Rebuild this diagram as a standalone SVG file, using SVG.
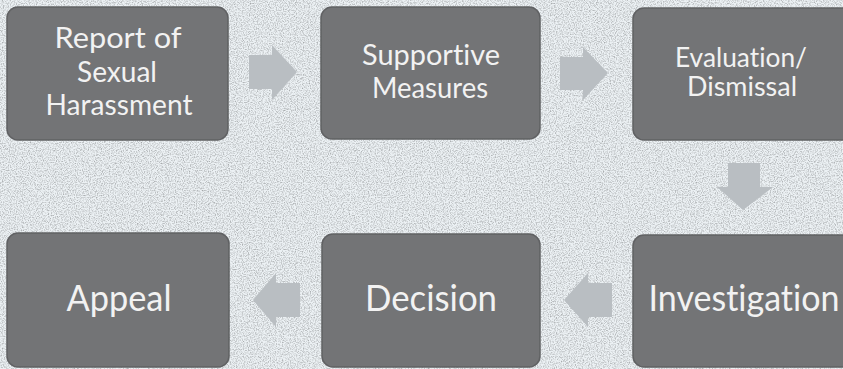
<svg xmlns="http://www.w3.org/2000/svg" width="843" height="369" viewBox="0 0 843 369">
<defs>
<filter id="grain" x="0" y="0" width="100%" height="100%">
<feTurbulence type="fractalNoise" baseFrequency="0.85" numOctaves="2" seed="3" result="n"/>
<feColorMatrix in="n" type="matrix" values="0 0 0 0 0  0 0 0 0 0  0 0 0 0 0  0 0 0 -1.6 0.95" result="a"/>
<feComposite in="a" in2="SourceGraphic" operator="in"/>
</filter>
</defs>
<style>
.box{fill:#737476;stroke:#606163;stroke-width:1.5}
.lbl{font-family:Lato,"Open Sans","Liberation Sans",sans-serif;fill:#f2f2f2;text-anchor:middle;font-variant-ligatures:none}
.xs{font-size:27px}
.s{font-size:29px}
.l{font-size:36px}
.arr{fill:#b9bec2}
</style>
<rect width="843" height="369" fill="#ecf1f4"/>
<rect width="843" height="369" fill="#a4b1b9" filter="url(#grain)" opacity="0.38"/>
<g id="connectors">
<polygon class="arr" points="249,55 272,55 272,45 297,72 272,100 272,89 249,89"/>
<polygon class="arr" points="560,57 583,57 583,47 608,73 583,100 583,90 560,90"/>
<polygon class="arr" points="728,163 760,163 760,187 773,187 743,210 717,187 728,187"/>
<polygon class="arr" points="612,283 588,283 588,273 564,300 588,327 588,317 612,317"/>
<polygon class="arr" points="300,283 276,283 276,273 253,300 276,327 276,317 300,317"/>
</g>
<g id="n1">
<rect class="box" x="7" y="7" width="221" height="133" rx="11"/>
<text class="lbl s" x="118" y="48" textLength="127" lengthAdjust="spacingAndGlyphs">Report of</text>
<text class="lbl s" x="117" y="82" textLength="80" lengthAdjust="spacingAndGlyphs">Sexual</text>
<text class="lbl s" x="119" y="115" textLength="147" lengthAdjust="spacingAndGlyphs">Harassment</text>
</g>
<g id="n2">
<rect class="box" x="321" y="7" width="219" height="132" rx="11"/>
<text class="lbl s" x="431" y="65" textLength="138" lengthAdjust="spacingAndGlyphs">Supportive</text>
<text class="lbl s" x="430" y="98" textLength="116" lengthAdjust="spacingAndGlyphs">Measures</text>
</g>
<g id="n3">
<rect class="box" x="633" y="8" width="222" height="132" rx="11"/>
<text class="lbl xs" x="741" y="67" textLength="132" lengthAdjust="spacingAndGlyphs">Evaluation/</text>
<text class="lbl xs" x="742" y="96" textLength="110" lengthAdjust="spacingAndGlyphs">Dismissal</text>
</g>
<g id="n4">
<rect class="box" x="633" y="235" width="222" height="132" rx="11"/>
<text class="lbl l" x="744" y="311" textLength="191" lengthAdjust="spacingAndGlyphs">Investigation</text>
</g>
<g id="n5">
<rect class="box" x="322" y="234" width="218" height="133" rx="11"/>
<text class="lbl l" x="431" y="311" textLength="132" lengthAdjust="spacingAndGlyphs">Decision</text>
</g>
<g id="n6">
<rect class="box" x="7" y="233" width="222" height="134" rx="11"/>
<text class="lbl l" x="119" y="311" textLength="105" lengthAdjust="spacingAndGlyphs">Appeal</text>
</g>
</svg>
